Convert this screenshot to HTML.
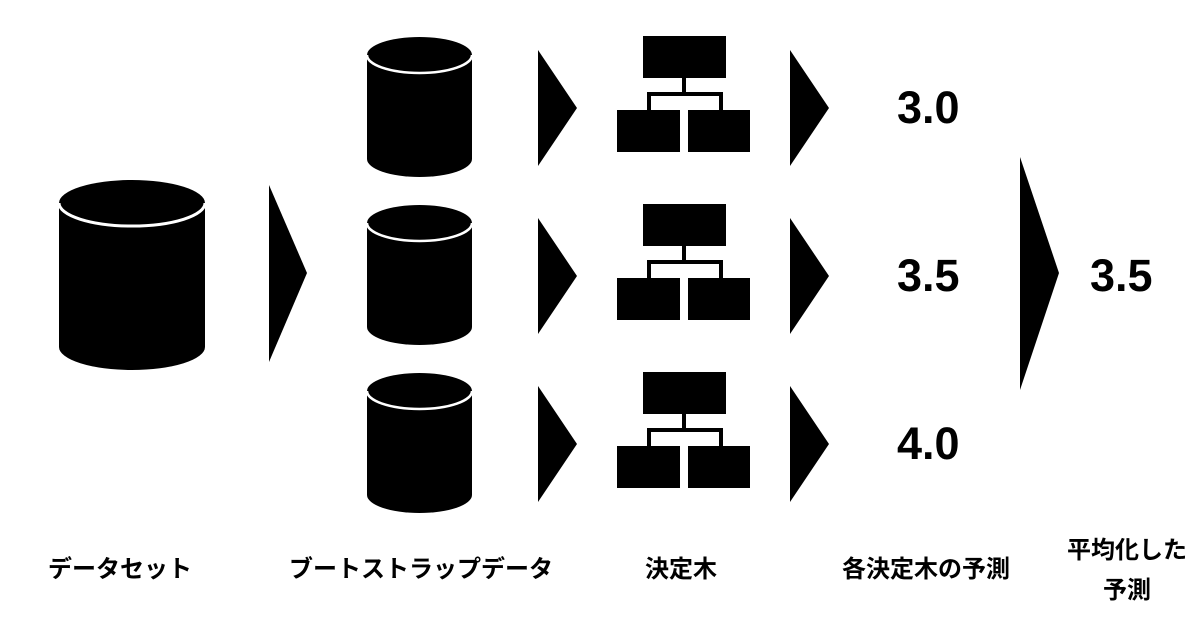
<!DOCTYPE html>
<html><head><meta charset="utf-8"><style>
html,body{margin:0;padding:0;background:#fff;}
svg{display:block}
.n{font-family:"Liberation Sans",sans-serif;font-weight:bold;font-size:45px;fill:#000}
.l{font-family:"Liberation Sans","Noto Sans CJK JP",sans-serif;font-weight:bold;font-size:24px;fill:#000}
</style></head><body>
<svg width="1200" height="630" viewBox="0 0 1200 630" xmlns="http://www.w3.org/2000/svg">
<defs>
<g id="cyl">
<path d="M0,18 A52.5,18 0 0 1 105,18 L105,122 A52.5,18 0 0 1 0,122 Z" fill="#000"/>
<path d="M0,18 A52.5,18 0 0 0 105,18" fill="none" stroke="#fff" stroke-width="2.5"/>
</g>
<g id="tree">
<rect x="643" y="0" width="83" height="42" fill="#000"/>
<rect x="682" y="42" width="4" height="16" fill="#000"/>
<rect x="647" y="56" width="76" height="4" fill="#000"/>
<rect x="647" y="56" width="4" height="18" fill="#000"/>
<rect x="719" y="56" width="4" height="18" fill="#000"/>
<rect x="617" y="74" width="63" height="42" fill="#000"/>
<rect x="688" y="74" width="62" height="42" fill="#000"/>
</g>
<g id="tri"><polygon points="0,0 39,58 0,116" fill="#000"/></g>
</defs>
<path d="M59,203 A73,23 0 0 1 205,203 L205,347 A73,23 0 0 1 59,347 Z" fill="#000"/>
<path d="M59,203 A73,23 0 0 0 205,203" fill="none" stroke="#fff" stroke-width="3"/>
<polygon points="269,185 307,273 269,362" fill="#000"/>
<use href="#cyl" x="367" y="37"/>
<use href="#cyl" x="367" y="205"/>
<use href="#cyl" x="367" y="373"/>
<use href="#tri" x="538" y="50"/>
<use href="#tri" x="538" y="218"/>
<use href="#tri" x="538" y="386"/>
<use href="#tree" x="0" y="36"/>
<use href="#tree" x="0" y="204"/>
<use href="#tree" x="0" y="372"/>
<use href="#tri" x="790" y="50"/>
<use href="#tri" x="790" y="218"/>
<use href="#tri" x="790" y="386"/>
<text class="n" x="897" y="123">3.0</text>
<text class="n" x="897" y="291">3.5</text>
<text class="n" x="897" y="459">4.0</text>
<polygon points="1020,157 1059,273 1020,390" fill="#000"/>
<text class="n" x="1090" y="291">3.5</text>
<text class="l" x="120" y="577" text-anchor="middle">データセット</text>
<text class="l" x="421" y="577" text-anchor="middle">ブートストラップデータ</text>
<text class="l" x="681" y="577" text-anchor="middle">決定木</text>
<text class="l" x="926" y="577" text-anchor="middle">各決定木の予測</text>
<text class="l" x="1127" y="558" text-anchor="middle">平均化した</text>
<text class="l" x="1127" y="598" text-anchor="middle">予測</text>
</svg>
</body></html>
